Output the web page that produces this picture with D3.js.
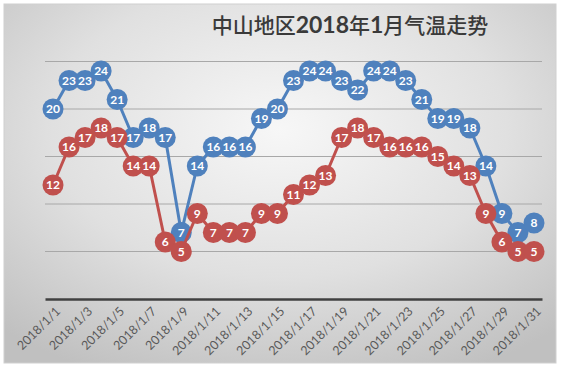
<!DOCTYPE html>
<html><head><meta charset="utf-8">
<script src="https://cdn.jsdelivr.net/npm/d3@7"></script>
<style>html,body{margin:0;padding:0;background:#fff;}svg{display:block;}</style>
</head><body>
<script>
const titleParts = [["中山地区",false],["2018",true],["年",false],["1",true],["月气温走势",false]];
const dates = d3.range(1, 32).map(d => "2018/1/" + d);
const highTemps = [20,23,23,24,21,17,18,17,7,14,16,16,16,19,20,23,24,24,23,22,24,24,23,21,19,19,18,14,9,7,8];
const lowTemps = [12,16,17,18,17,14,14,6,5,9,7,7,7,9,9,11,12,13,17,18,17,16,16,16,15,14,13,9,6,5,5];
const yTicks = [0,5,10,15,20,25];
const tickLabels = dates.filter((d, i) => i % 2 === 0);

const W = 561, H = 369;
const svg = d3.select("body").append("svg").attr("width", W).attr("height", H);
const defs = svg.append("defs");
const grad = defs.append("radialGradient").attr("id","bg")
  .attr("cx","50%").attr("cy","35%").attr("r","75%");
grad.append("stop").attr("offset","0%").attr("stop-color","#f7f7f7");
grad.append("stop").attr("offset","55%").attr("stop-color","#e0e0e0");
grad.append("stop").attr("offset","100%").attr("stop-color","#c0c0c0");

svg.append("rect").attr("x",4).attr("y",4).attr("width",552).attr("height",359)
  .attr("fill","url(#bg)").attr("stroke","#d0d0d0").attr("stroke-width",1);

const x = d3.scaleBand().domain(dates).range([45, 542]);
const cx = d => x(d) + x.bandwidth()/2;
const y = d3.scaleLinear().domain([0,25]).range([299, 61.5]);

// gridlines
svg.append("g").selectAll("line").data(yTicks.filter(t => t > 0)).join("line")
  .attr("x1",45).attr("x2",542).attr("y1",d=>y(d)).attr("y2",d=>y(d))
  .attr("stroke","#a8a8a8").attr("stroke-width",1);

// x axis
const xAxis = d3.axisBottom(x).tickValues(tickLabels).tickSize(0).tickSizeOuter(0).tickPadding(0);
const gx = svg.append("g").attr("transform",`translate(0,${y(0)})`).call(xAxis);
gx.select(".domain").attr("stroke","#404040").attr("stroke-width",2.5);
gx.selectAll("text")
  .attr("font-family","Lato, 'Open Sans', sans-serif").attr("font-size",12.5).attr("fill","#595959")
  .attr("text-anchor","end").attr("dy",null).attr("y",0)
  .attr("transform","translate(8,13) rotate(-45)");

// title
const t = svg.append("text").attr("x",350).attr("y",33).attr("text-anchor","middle")
  .attr("font-family","'Noto Sans CJK SC', sans-serif").attr("font-size",21)
  .attr("fill","#3a3a3a");
t.selectAll("tspan").data(titleParts).join("tspan")
  .attr("font-family", d => d[1] ? "Lato, sans-serif" : "'Noto Sans CJK SC', sans-serif")
  .attr("font-weight", d => d[1] ? "bold" : 500)
  .attr("font-size", d => d[1] ? 23 : 21)
  .text(d => d[0]);

const series = [
  {vals: highTemps, color: "#4F81BD"},
  {vals: lowTemps, color: "#C0504D"}
];
const line = d3.line().x((v,i)=>cx(dates[i])).y(v=>y(v));

series.forEach(s => {
  const g = svg.append("g");
  g.append("path").attr("d", line(s.vals)).attr("fill","none")
    .attr("stroke", s.color).attr("stroke-width",3).attr("stroke-linejoin","round");
  g.selectAll("circle").data(s.vals).join("circle")
    .attr("cx",(v,i)=>cx(dates[i])).attr("cy",v=>y(v)).attr("r",10.5)
    .attr("fill",s.color);
});
series.forEach(s => {
  svg.append("g").selectAll("text").data(s.vals).join("text")
    .attr("x",(v,i)=>cx(dates[i])).attr("y",v=>y(v)).attr("dy","0.36em")
    .attr("text-anchor","middle").attr("font-family","Lato, 'Open Sans', sans-serif")
    .attr("font-weight","bold").attr("font-size",12).attr("fill","#fff").text(v=>v);
});
</script>
</body></html>
